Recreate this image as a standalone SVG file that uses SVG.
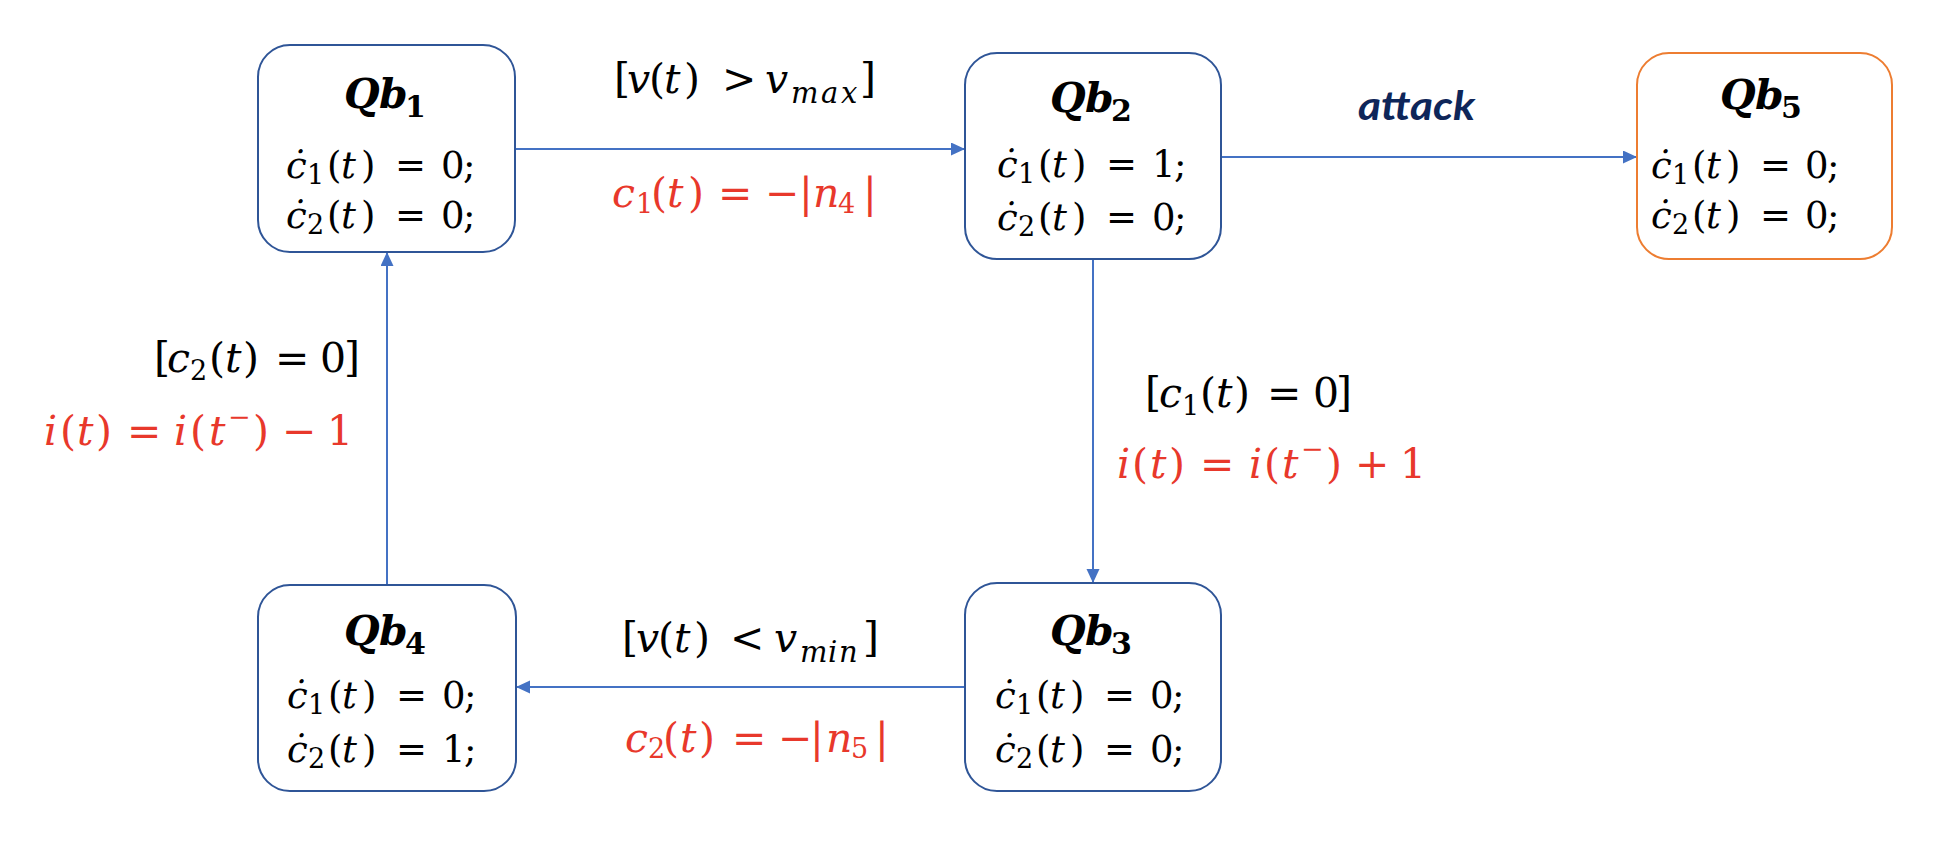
<svg xmlns="http://www.w3.org/2000/svg" width="1940" height="848" viewBox="0 0 1940 848">
<style>
.bg{fill:#fff}
.box{fill:#fff;stroke:#2F5597;stroke-width:2}
.box5{fill:#fff;stroke:#ED7D31;stroke-width:2}
.t{font-family:"DejaVu Serif","Liberation Serif",serif;fill:#000}
.b{font-size:37px}
.l{font-size:41px}
.i{font-style:italic}
.s{font-size:27px}
.ss{font-size:29px}
.ttl{font-family:"DejaVu Serif","Liberation Serif",serif;font-weight:bold;font-style:italic;font-size:41px;fill:#000}
.ts{font-style:normal;font-size:30px}
.red{fill:#E8382B}
.edge{stroke:#4472C4;stroke-width:2;fill:none}
.atk{font-family:Lato,"Liberation Sans",sans-serif;font-weight:bold;font-style:italic;font-size:40px;fill:#0E2659}
</style>
<defs>
<marker id="arr" markerUnits="userSpaceOnUse" markerWidth="15" markerHeight="14" refX="14" refY="6.5" orient="auto">
<path d="M0,0 L14,6.5 L0,13 z" fill="#4472C4"/>
</marker>
</defs>
<rect class="bg" x="0" y="0" width="1940" height="848"/>

<g id="connectors">
<line class="edge" x1="516" y1="149" x2="965" y2="149" marker-end="url(#arr)"/>
<line class="edge" x1="1222" y1="157" x2="1637" y2="157" marker-end="url(#arr)"/>
<line class="edge" x1="1093" y1="260" x2="1093" y2="583" marker-end="url(#arr)"/>
<line class="edge" x1="965" y1="687" x2="516" y2="687" marker-end="url(#arr)"/>
<line class="edge" x1="387" y1="585" x2="387" y2="252" marker-end="url(#arr)"/>

<text class="t l" y="93"><tspan x="614">[</tspan><tspan class="i" x="627">v</tspan><tspan x="649">(</tspan><tspan class="i" x="664">t</tspan><tspan x="684">)</tspan><tspan x="722">&gt;</tspan><tspan class="i" x="765">v</tspan><tspan class="i ss" x="791 821 841" dy="10">max</tspan><tspan x="860" dy="-10">]</tspan></text>
<text class="t l red" y="207"><tspan class="i" x="612">c</tspan><tspan class="s" x="636" dy="6">1</tspan><tspan x="651" dy="-6">(</tspan><tspan class="i" x="667">t</tspan><tspan x="688">)</tspan><tspan x="718">=</tspan><tspan x="765">−</tspan><tspan x="799">|</tspan><tspan class="i" x="813">n</tspan><tspan class="s" x="838" dy="6">4</tspan><tspan x="863" dy="-6">|</tspan></text>

<text class="atk" x="1358" y="120" textLength="117" lengthAdjust="spacingAndGlyphs">attack</text>

<text class="t l" y="407"><tspan x="1145">[</tspan><tspan class="i" x="1159">c</tspan><tspan class="s" x="1182" dy="8">1</tspan><tspan x="1200" dy="-8">(</tspan><tspan class="i" x="1216">t</tspan><tspan x="1234">)</tspan><tspan x="1267">=</tspan><tspan x="1313">0</tspan><tspan x="1336">]</tspan></text>
<text class="t l red" y="478"><tspan class="i" x="1117">i</tspan><tspan x="1132">(</tspan><tspan class="i" x="1150">t</tspan><tspan x="1169">)</tspan><tspan x="1200">=</tspan><tspan class="i" x="1249">i</tspan><tspan x="1264">(</tspan><tspan class="i" x="1282">t</tspan><tspan class="s" x="1301" dy="-20">−</tspan><tspan x="1326" dy="20">)</tspan><tspan x="1355">+</tspan><tspan x="1400">1</tspan></text>

<text class="t l" y="372"><tspan x="154">[</tspan><tspan class="i" x="167">c</tspan><tspan class="s" x="190" dy="8">2</tspan><tspan x="209" dy="-8">(</tspan><tspan class="i" x="225">t</tspan><tspan x="243">)</tspan><tspan x="275">=</tspan><tspan x="320">0</tspan><tspan x="344">]</tspan></text>
<text class="t l red" y="445"><tspan class="i" x="44">i</tspan><tspan x="60">(</tspan><tspan class="i" x="77">t</tspan><tspan x="96">)</tspan><tspan x="127">=</tspan><tspan class="i" x="174">i</tspan><tspan x="190">(</tspan><tspan class="i" x="209">t</tspan><tspan class="s" x="228" dy="-19">−</tspan><tspan x="253" dy="19">)</tspan><tspan x="282">−</tspan><tspan x="327">1</tspan></text>

<text class="t l" y="652"><tspan x="622">[</tspan><tspan class="i" x="636">v</tspan><tspan x="658">(</tspan><tspan class="i" x="674">t</tspan><tspan x="694">)</tspan><tspan x="730">&lt;</tspan><tspan class="i" x="774">v</tspan><tspan class="i ss" x="800 828 839" dy="10">min</tspan><tspan x="863" dy="-10">]</tspan></text>
<text class="t l red" y="752"><tspan class="i" x="625">c</tspan><tspan class="s" x="648" dy="6">2</tspan><tspan x="663" dy="-6">(</tspan><tspan class="i" x="680">t</tspan><tspan x="699">)</tspan><tspan x="732">=</tspan><tspan x="778">−</tspan><tspan x="810">|</tspan><tspan class="i" x="826">n</tspan><tspan class="s" x="851" dy="6">5</tspan><tspan x="875" dy="-6">|</tspan></text>
</g>

<g id="qb1">
<rect class="box" x="258" y="45" width="257" height="207" rx="32"/>
<text class="ttl" y="108"><tspan x="344">Q</tspan><tspan x="379">b</tspan><tspan class="ts" x="405" dy="9">1</tspan></text>
<text class="t b" y="178"><tspan class="i" x="286">ċ</tspan><tspan class="s" x="307" dy="6">1</tspan><tspan x="327" dy="-6">(</tspan><tspan class="i" x="341">t</tspan><tspan x="361">)</tspan><tspan x="395">=</tspan><tspan x="441">0</tspan><tspan x="463">;</tspan></text>
<text class="t b" y="228"><tspan class="i" x="286">ċ</tspan><tspan class="s" x="307" dy="6">2</tspan><tspan x="327" dy="-6">(</tspan><tspan class="i" x="341">t</tspan><tspan x="361">)</tspan><tspan x="395">=</tspan><tspan x="441">0</tspan><tspan x="463">;</tspan></text>
</g>

<g id="qb2">
<rect class="box" x="965" y="53" width="256" height="206" rx="32"/>
<text class="ttl" y="112"><tspan x="1050">Q</tspan><tspan x="1085">b</tspan><tspan class="ts" x="1111" dy="9">2</tspan></text>
<text class="t b" y="177"><tspan class="i" x="997">ċ</tspan><tspan class="s" x="1018" dy="6">1</tspan><tspan x="1038" dy="-6">(</tspan><tspan class="i" x="1052">t</tspan><tspan x="1072">)</tspan><tspan x="1106">=</tspan><tspan x="1152">1</tspan><tspan x="1174">;</tspan></text>
<text class="t b" y="230"><tspan class="i" x="997">ċ</tspan><tspan class="s" x="1018" dy="6">2</tspan><tspan x="1038" dy="-6">(</tspan><tspan class="i" x="1052">t</tspan><tspan x="1072">)</tspan><tspan x="1106">=</tspan><tspan x="1152">0</tspan><tspan x="1174">;</tspan></text>
</g>

<g id="qb5">
<rect class="box5" x="1637" y="53" width="255" height="206" rx="32"/>
<text class="ttl" y="109"><tspan x="1720">Q</tspan><tspan x="1755">b</tspan><tspan class="ts" x="1781" dy="9">5</tspan></text>
<text class="t b" y="178"><tspan class="i" x="1651">ċ</tspan><tspan class="s" x="1672" dy="6">1</tspan><tspan x="1692" dy="-6">(</tspan><tspan class="i" x="1706">t</tspan><tspan x="1726">)</tspan><tspan x="1760">=</tspan><tspan x="1805">0</tspan><tspan x="1827">;</tspan></text>
<text class="t b" y="228"><tspan class="i" x="1651">ċ</tspan><tspan class="s" x="1672" dy="6">2</tspan><tspan x="1692" dy="-6">(</tspan><tspan class="i" x="1706">t</tspan><tspan x="1726">)</tspan><tspan x="1760">=</tspan><tspan x="1805">0</tspan><tspan x="1827">;</tspan></text>
</g>

<g id="qb3">
<rect class="box" x="965" y="583" width="256" height="208" rx="32"/>
<text class="ttl" y="645"><tspan x="1050">Q</tspan><tspan x="1085">b</tspan><tspan class="ts" x="1111" dy="9">3</tspan></text>
<text class="t b" y="708"><tspan class="i" x="995">ċ</tspan><tspan class="s" x="1016" dy="6">1</tspan><tspan x="1036" dy="-6">(</tspan><tspan class="i" x="1050">t</tspan><tspan x="1070">)</tspan><tspan x="1104">=</tspan><tspan x="1150">0</tspan><tspan x="1172">;</tspan></text>
<text class="t b" y="762"><tspan class="i" x="995">ċ</tspan><tspan class="s" x="1016" dy="6">2</tspan><tspan x="1036" dy="-6">(</tspan><tspan class="i" x="1050">t</tspan><tspan x="1070">)</tspan><tspan x="1104">=</tspan><tspan x="1150">0</tspan><tspan x="1172">;</tspan></text>
</g>

<g id="qb4">
<rect class="box" x="258" y="585" width="258" height="206" rx="32"/>
<text class="ttl" y="645"><tspan x="344">Q</tspan><tspan x="379">b</tspan><tspan class="ts" x="405" dy="9">4</tspan></text>
<text class="t b" y="708"><tspan class="i" x="287">ċ</tspan><tspan class="s" x="308" dy="6">1</tspan><tspan x="328" dy="-6">(</tspan><tspan class="i" x="342">t</tspan><tspan x="362">)</tspan><tspan x="396">=</tspan><tspan x="442">0</tspan><tspan x="464">;</tspan></text>
<text class="t b" y="762"><tspan class="i" x="287">ċ</tspan><tspan class="s" x="308" dy="6">2</tspan><tspan x="328" dy="-6">(</tspan><tspan class="i" x="342">t</tspan><tspan x="362">)</tspan><tspan x="396">=</tspan><tspan x="442">1</tspan><tspan x="464">;</tspan></text>
</g>
</svg>
